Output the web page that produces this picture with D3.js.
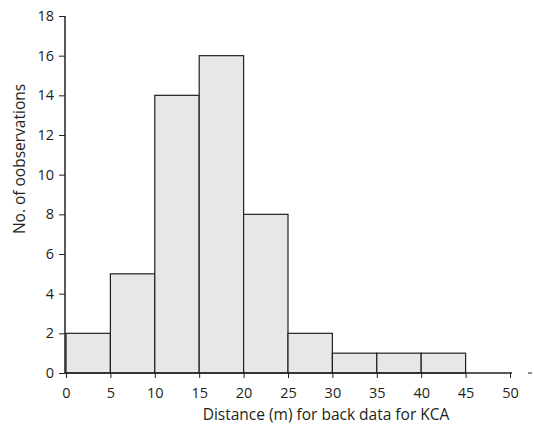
<!DOCTYPE html>
<html>
<head>
<meta charset="utf-8">
<script src="https://cdn.jsdelivr.net/npm/d3@7"></script>
<style>
  body { margin: 0; background: #fff; }
  text { font-family: "Open Sans", "Noto Sans", sans-serif; }
</style>
</head>
<body>
<div id="chart"></div>
<script>
// histogram of distances, bins of 5 m
const binStarts = [0, 5, 10, 15, 20, 25, 30, 35, 40];
const binWidth = 5;
const counts = [2, 5, 14, 16, 8, 2, 1, 1, 1];
const xTicks = [0, 5, 10, 15, 20, 25, 30, 35, 40, 45, 50];
const yTicks = [0, 2, 4, 6, 8, 10, 12, 14, 16, 18];

const width = 534;
const height = 429;

const svg = d3.select("#chart")
  .append("svg")
  .attr("width", width)
  .attr("height", height);

// scales
const x = d3.scaleLinear().domain([0, 50]).range([66, 510]);
const y = d3.scaleLinear().domain([0, 18]).range([373, 16]);

// bars
svg.selectAll(".bar")
  .data(counts)
  .enter()
  .append("rect")
    .attr("class", "bar")
    .attr("x", (d, i) => x(binStarts[i]))
    .attr("y", d => y(d))
    .attr("width", (d, i) => x(binStarts[i] + binWidth) - x(binStarts[i]))
    .attr("height", d => y(0) - y(d))
    .attr("fill", "#e6e7e8")
    .attr("stroke", "#231f20")
    .attr("stroke-width", 1.2);

// y axis
const yAxis = svg.append("g")
  .attr("transform", "translate(65,0)")
  .call(d3.axisLeft(y).tickValues(yTicks).tickSize(6).tickPadding(5));
yAxis.select(".domain").attr("d", `M0,${y(18)}V${y(0)}`);

// x axis
const xAxis = svg.append("g")
  .attr("transform", `translate(0,${y(0)})`)
  .call(d3.axisBottom(x).tickValues(xTicks).tickSize(5).tickPadding(10));
xAxis.select(".domain").attr("d", `M${x(0) - 1},0H${x(50) + 2}`);

svg.selectAll(".domain").attr("stroke", "#231f20").attr("stroke-width", 1.5);
svg.selectAll(".tick line").attr("stroke", "#231f20").attr("stroke-width", 1);
svg.selectAll(".tick text")
  .attr("font-size", "14.5px")
  .attr("fill", "#231f20")
  .attr("font-family", "'Open Sans', 'Noto Sans', sans-serif");

// stray dash at right end of axis
svg.append("line")
  .attr("x1", 528).attr("x2", 532)
  .attr("y1", y(0)).attr("y2", y(0))
  .attr("stroke", "#231f20")
  .attr("stroke-width", 1);

// axis titles
svg.append("text")
  .attr("x", 326)
  .attr("y", 420)
  .attr("text-anchor", "middle")
  .attr("font-size", "15.5px")
  .attr("fill", "#231f20")
  .text("Distance (m) for back data for KCA");

svg.append("text")
  .attr("transform", "translate(25,159) rotate(-90)")
  .attr("text-anchor", "middle")
  .attr("font-size", "15.5px")
  .attr("fill", "#231f20")
  .text("No. of oobservations");
</script>
</body>
</html>
